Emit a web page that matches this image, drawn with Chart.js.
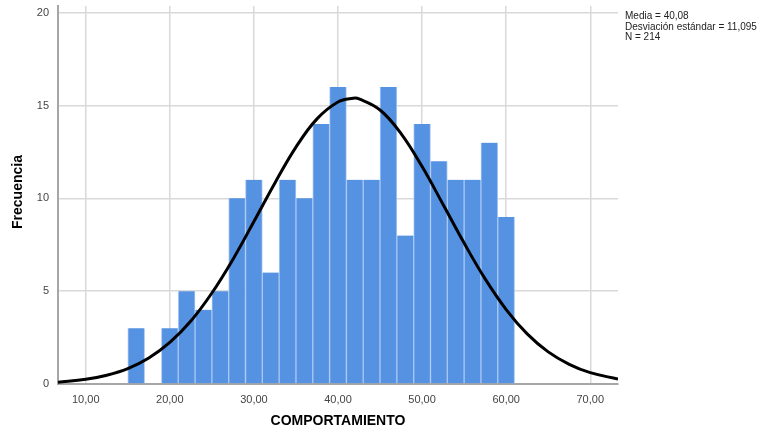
<!DOCTYPE html>
<html>
<head>
<meta charset="utf-8">
<script src="https://cdn.jsdelivr.net/npm/chart.js@4/dist/chart.umd.min.js"></script>
<style>
  html, body { margin: 0; padding: 0; background: #ffffff; }
  #wrap { position: relative; width: 768px; height: 430px; }
</style>
</head>
<body>
<div id="wrap"><canvas id="hist" width="768" height="430"></canvas></div>
<script>
// Bin centres (bin width 2) and frequencies of COMPORTAMIENTO
const binCenters = [16, 18, 20, 22, 24, 26, 28, 30, 32, 34, 36, 38, 40, 42, 44, 46, 48, 50, 52, 54, 56, 58, 60];
const frequencies = [3, 0, 3, 5, 4, 5, 10, 11, 6, 11, 10, 14, 16, 11, 11, 16, 8, 14, 12, 11, 11, 13, 9];

// Fitted normal curve, sampled points
const curveX = [6.7, 10, 12.5, 15, 17.5, 20, 22.5, 25, 27.5, 30, 32.5, 35, 37.5, 40, 41.8, 42.5, 45, 47.5, 50, 52.5, 55, 57.5, 60, 62.5, 65, 67.5, 70, 73.3];
const curveY = [0.10, 0.25, 0.47, 0.83, 1.40, 2.24, 3.39, 4.90, 6.71, 8.75, 10.83, 12.76, 14.28, 15.19, 15.39, 15.36, 14.76, 13.49, 11.71, 9.67, 7.59, 5.66, 4.01, 2.70, 1.73, 1.06, 0.61, 0.27];

// Axis ticks
const xTicks = [10, 20, 30, 40, 50, 60, 70];
const yTicks = [0, 5, 10, 15, 20];

// Summary statistics shown at the top right
const statLines = ['Media = 40,08', 'Desviación estándar = 11,095', 'N = 214'];

const FONT = '"Liberation Sans", Arial, sans-serif';

const barData = binCenters.map((c, i) => ({ x: c, y: frequencies[i] }));
const lineData = curveX.map((x, i) => ({ x: x, y: curveY[i] }));

// Axis titles and statistics text
const annotations = {
  id: 'annotations',
  afterDraw(chart) {
    const ctx = chart.ctx;
    const area = chart.chartArea;
    ctx.save();
    ctx.fillStyle = '#000000';
    ctx.font = 'bold 14px ' + FONT;
    ctx.textAlign = 'center';
    ctx.textBaseline = 'middle';
    ctx.fillText('COMPORTAMIENTO', (area.left + area.right) / 2, 421);
    ctx.translate(18, 192);
    ctx.rotate(-Math.PI / 2);
    ctx.fillText('Frecuencia', 0, 0);
    ctx.restore();

    ctx.save();
    ctx.fillStyle = '#222222';
    ctx.font = '10px ' + FONT;
    ctx.textAlign = 'left';
    ctx.textBaseline = 'middle';
    statLines.forEach((t, i) => ctx.fillText(t, 625, 16.5 + i * 10.5));
    ctx.restore();
  }
};

new Chart(document.getElementById('hist'), {
  type: 'bar',
  data: {
    datasets: [
      {
        type: 'line',
        data: lineData,
        borderColor: '#000000',
        borderWidth: 3,
        pointRadius: 0,
        tension: 0.4,
        fill: false,
        order: 0
      },
      {
        type: 'bar',
        data: barData,
        backgroundColor: '#5592e2',
        borderColor: '#a9c8f2',
        borderWidth: { left: 1, right: 1, top: 0, bottom: 0 },
        borderSkipped: false,
        barPercentage: 1,
        categoryPercentage: 1,
        order: 1
      }
    ]
  },
  options: {
    responsive: false,
    animation: false,
    layout: { padding: { top: 6, right: 150, left: 0, bottom: 0 } },
    plugins: { legend: { display: false }, tooltip: { enabled: false } },
    scales: {
      x: {
        type: 'linear',
        min: 6.7,
        max: 73.3,
        offset: false,
        afterBuildTicks(scale) { scale.ticks = xTicks.map(v => ({ value: v })); },
        afterFit(scale) {
          scale.height = 46;
          scale.paddingLeft = 0;
          scale.paddingRight = 0;
        },
        grid: { color: '#d9d9d9', lineWidth: 1.5, drawTicks: false, offset: false },
        border: { color: '#a6a6a6', width: 2 },
        ticks: {
          padding: 9,
          color: '#444444',
          font: { family: FONT, size: 11 },
          callback: v => v.toFixed(2).replace('.', ',')
        }
      },
      y: {
        min: 0,
        max: 20.36,
        afterBuildTicks(scale) { scale.ticks = yTicks.map(v => ({ value: v })); },
        afterFit(scale) {
          scale.width = 58;
          scale.paddingTop = 0;
          scale.paddingBottom = 0;
        },
        grid: { color: '#d9d9d9', lineWidth: 1.5, drawTicks: false },
        border: { color: '#a6a6a6', width: 2 },
        ticks: {
          padding: 9,
          color: '#444444',
          font: { family: FONT, size: 11 },
          callback: v => String(v)
        }
      }
    }
  },
  plugins: [annotations]
});
</script>
</body>
</html>
